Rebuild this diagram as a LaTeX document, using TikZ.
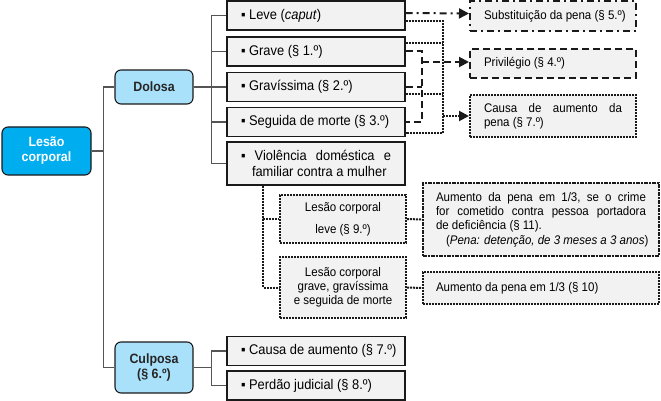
\documentclass[tikz,border=0pt]{standalone}
\usepackage{fontspec}
\setmainfont[FakeStretch=0.92]{Liberation Sans}
\usetikzlibrary{arrows.meta,calc}
\definecolor{cyanbox}{HTML}{00ADEF}
\definecolor{lightblue}{HTML}{A9E1FA}
\definecolor{boxgray}{HTML}{F2F2F2}
\definecolor{treegray}{HTML}{555555}
\definecolor{bord}{HTML}{1A1A1A}
\tikzset{
  rbox/.style={draw=bord, line width=1.1pt, rounded corners=6pt, align=center, font=\fontsize{13.5}{16}\selectfont\bfseries, inner sep=0pt},
  mbox/.style={draw=bord, line width=1.1pt, fill=boxgray, minimum width=178pt, minimum height=29pt, inner sep=0pt, align=left, font=\fontsize{14}{16}\selectfont},
  sbox/.style={draw=bord, line width=2pt, fill=boxgray, inner sep=0pt, font=\fontsize{12.5}{14}\selectfont},
  dotb/.style={dash pattern=on 2pt off 1pt},
  dashb/.style={dash pattern=on 7pt off 4pt},
  dashdotb/.style={dash pattern=on 7pt off 4pt on 2pt off 4pt},
  mixb/.style={dash pattern=on 4pt off 1pt on 2pt off 1pt},
  tree/.style={draw=treegray, line width=1.1pt},
  conn/.style={draw=bord, line width=2pt},
  arr/.style={-{Triangle[length=10pt,width=10pt]}},
}
\newcommand{\mline}[1]{\makebox[150pt][l]{▪ #1}}
\begin{document}
\begin{tikzpicture}[x=1pt,y=-1pt]
\useasboundingbox (0,0) rectangle (661,401);

% left level
\node[rbox, fill=cyanbox, text=white, minimum width=89pt, minimum height=48pt] (lesao) at (46.5,151) {Lesão\\[-1pt]corporal};
\node[rbox, fill=lightblue, text=black!85, minimum width=78pt, minimum height=34pt] (dolosa) at (154,87) {Dolosa};
\node[rbox, fill=lightblue, text=black!85, minimum width=78pt, minimum height=51pt, font=\fontsize{13.5}{15}\selectfont\bfseries] (culposa) at (154,367.5) {Culposa\\(§ 6.º)};

% dolosa children
\node[mbox] (leve) at (316,15.5) {\mline{Leve (\textit{caput})}};
\node[mbox] (grave) at (316,51.5) {\mline{Grave (§ 1.º)}};
\node[mbox] (gravissima) at (316,87) {\mline{Gravíssima (§ 2.º)}};
\node[mbox] (seguida) at (316,122) {\mline{Seguida de morte (§ 3.º)}};
\node[mbox, minimum height=43pt, font=\fontsize{14}{16}\selectfont] (viol) at (316,163.5) {\makebox[150pt][s]{▪ \ Violência \ doméstica \ e}\\\makebox[150pt][l]{\hspace*{11pt}familiar contra a mulher}};

% culposa children
\node[mbox] (causa2) at (316,351) {\mline{Causa de aumento (§ 7.º)}};
\node[mbox] (perdao) at (316,385.5) {\mline{Perdão judicial (§ 8.º)}};

% right boxes
\node[sbox, dashdotb, minimum width=166pt, minimum height=30pt, align=left] (subst) at (553,16) {\makebox[138pt][l]{Substituição da pena (§ 5.º)}};
\node[sbox, dashb, minimum width=166pt, minimum height=29pt, align=left] (priv) at (553,63.5) {\makebox[138pt][l]{Privilégio (§ 4.º)}};
\node[sbox, dotb, minimum width=166pt, minimum height=42pt, align=left] (causa) at (553,116) {\makebox[138pt][s]{Causa \ de \ aumento \ da}\\\makebox[138pt][l]{pena (§ 7.º)}};

% violencia sub boxes
\node[sbox, dotb, minimum width=126pt, minimum height=48pt, align=center] (lleve) at (343,219) {Lesão corporal\\[8pt]leve (§ 9.º)};
\node[sbox, dotb, minimum width=126pt, minimum height=61pt, align=center, font=\fontsize{12.5}{14}\selectfont] (lgrave) at (343,287.5) {Lesão corporal\\grave, gravíssima\\e seguida de morte};
\node[sbox, mixb, minimum width=236pt, minimum height=73pt, align=left, font=\fontsize{12.5}{14.3}\selectfont] (aum1) at (541,219.5) {\makebox[210pt][s]{Aumento \ da \ pena \ em \ 1/3, \ se \ o \ crime}\\\makebox[210pt][s]{for \ cometido \ contra \ pessoa \ portadora}\\\makebox[210pt][l]{de deficiência (§ 11).}\\\makebox[210pt][l]{\hspace*{10pt}(\textit{Pena: detenção, de 3 meses a 3 anos})}};
\node[sbox, dotb, minimum width=236pt, minimum height=32pt, align=left] (aum2) at (541,288) {\makebox[210pt][l]{Aumento da pena em 1/3 (§ 10)}};

% tree connectors
\draw[tree] (lesao.east) -- ++(12,0) coordinate (t1);
\draw[tree] (t1) |- (dolosa.west);
\draw[tree] (t1) |- (culposa.west);
\draw[tree] (dolosa.east) -- ++(18,0) coordinate (t2);
\draw[tree] (t2) |- (leve.west);
\draw[tree] (t2) |- (grave.west);
\draw[tree] (t2) |- (gravissima.west);
\draw[tree] (t2) |- (seguida.west);
\draw[tree] (t2) |- (viol.west);
\draw[tree] (culposa.east) -- ++(18,0) coordinate (t3);
\draw[tree] (t3) |- (causa2.west);
\draw[tree] (t3) |- (perdao.west);

% violencia dotted connectors
\coordinate (vs) at ([xshift=37pt]viol.south west);
\draw[conn, dotb] (vs) |- (lleve.west);
\draw[conn, dotb] (vs) |- (lgrave.west);
\draw[conn, dotb] (lleve.east) -- (aum1.west);
\draw[conn, dotb] (lgrave.east) -- (aum2.west);

% upper connectors
\coordinate (dv) at (443,0);
\coordinate (dx) at (422,0);
% dash-dot to substituicao
\draw[conn, dashdotb, arr] ([yshift=2.5pt]leve.east) -- ([yshift=2.5pt]subst.west);
% dashed to privilegio
\coordinate (g2) at (grave.east);
\coordinate (s2) at (seguida.east);
\draw[conn, dashb] (g2) -| (dx |- s2) -- (s2);
\draw[conn, dashb] (gravissima.east) -- (gravissima.east -| dx);
\draw[conn, dashb, arr] ([yshift=1.5pt]priv.west -| dx) -- ([yshift=1.5pt]priv.west);
% dotted to causa
\coordinate (l1) at ([yshift=-5.5pt]leve.east);
\coordinate (s1) at ([yshift=-11pt]seguida.east);
\coordinate (g1) at ([yshift=8.5pt]grave.east);
\coordinate (gg1) at ([yshift=-7pt]gravissima.east);
\draw[conn, dotb] (l1) -| (dv |- s1) -- (s1);
\draw[conn, dotb] (g1) -- (g1 -| dv);
\draw[conn, dotb] (gg1) -- (gg1 -| dv);
\draw[conn, dotb, arr] (causa.west -| dv) -- (causa.west);
\end{tikzpicture}
\end{document}
